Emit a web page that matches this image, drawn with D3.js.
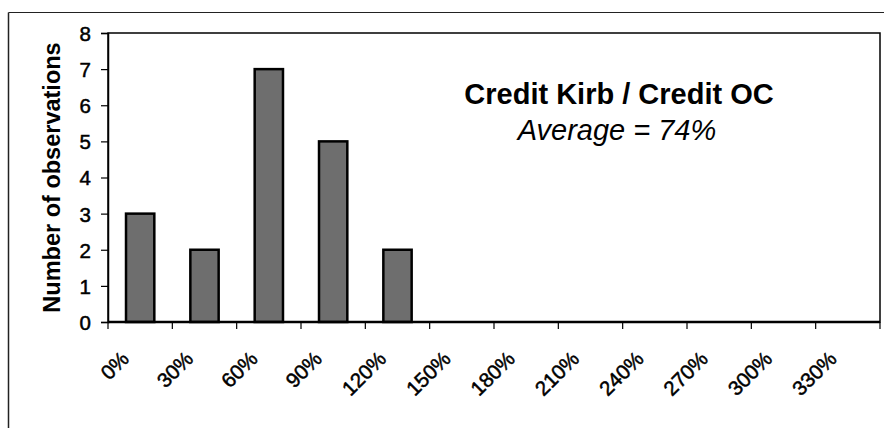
<!DOCTYPE html>
<html>
<head>
<meta charset="utf-8">
<script src="https://cdn.jsdelivr.net/npm/d3@7"></script>
<style>
  html, body { margin: 0; padding: 0; background: #fff; }
  svg { display: block; }
  text { font-family: Arial, "Liberation Sans", sans-serif; fill: #000; }
</style>
</head>
<body>
<svg id="chart" width="884" height="428"></svg>
<script>
const categories = ["0%", "30%", "60%", "90%", "120%", "150%", "180%", "210%", "240%", "270%", "300%", "330%"];
const observations = [3, 2, 7, 5, 2, 0, 0, 0, 0, 0, 0, 0];
const yTicks = [0, 1, 2, 3, 4, 5, 6, 7, 8];
const titleText = "Credit Kirb / Credit OC";
const subtitleText = "Average = 74%";
const yTitle = "Number of observations";

const W = 884, H = 428;
const m = { left: 108, right: 4, top: 33, bottom: 106 };
const svg = d3.select("#chart");

// outer frame (top + left lines)
svg.append("line").attr("x1", 8.5).attr("x2", W).attr("y1", 12.5).attr("y2", 12.5)
  .attr("stroke", "#222").attr("stroke-width", 1);
svg.append("line").attr("x1", 8.5).attr("x2", 8.5).attr("y1", 12.5).attr("y2", H)
  .attr("stroke", "#222").attr("stroke-width", 1.5);

const x = d3.scaleBand().domain(categories).range([m.left, W - m.right]).paddingInner(0).paddingOuter(0);
const y = d3.scaleLinear().domain([0, 8]).range([H - m.bottom, m.top]);

// plot frame
svg.append("rect").attr("x", m.left).attr("y", m.top)
  .attr("width", W - m.right - m.left).attr("height", H - m.bottom - m.top)
  .attr("fill", "none").attr("stroke", "#000").attr("stroke-width", 1.5);

// bars
const bw = x.bandwidth() * 0.44;
svg.append("g").selectAll("rect")
  .data(categories.map((c, i) => ({ c, v: observations[i] })).filter(d => d.v > 0))
  .join("rect")
  .attr("x", d => x(d.c) + x.bandwidth() / 2 - bw / 2)
  .attr("y", d => y(d.v))
  .attr("width", bw)
  .attr("height", d => y(0) - y(d.v))
  .attr("fill", "#6e6e6e")
  .attr("stroke", "#000")
  .attr("stroke-width", 2.5);

// y axis
const yAxis = d3.axisLeft(y).tickValues(yTicks).tickSize(7).tickPadding(10).tickFormat(d3.format("d"));
const gy = svg.append("g").attr("transform", `translate(${m.left},0)`).call(yAxis);
gy.select(".domain").attr("stroke", "#000").attr("stroke-width", 1.5);
gy.selectAll(".tick line").attr("stroke", "#000").attr("stroke-width", 1.2);
gy.selectAll(".tick text").style("font-size", "20.5px").attr("dy", "0.36em")
  .attr("stroke", "#000").attr("stroke-width", 0.5);

// x axis: ticks at band boundaries
const bounds = categories.map(c => x(c)).concat([x.range()[1]]);
const gx = svg.append("g");
gx.append("line").attr("x1", m.left).attr("x2", W - m.right)
  .attr("y1", y(0)).attr("y2", y(0)).attr("stroke", "#000").attr("stroke-width", 2.5);
gx.selectAll("line.tk").data(bounds).join("line").attr("class", "tk")
  .attr("x1", d => d).attr("x2", d => d)
  .attr("y1", y(0)).attr("y2", y(0) + 7)
  .attr("stroke", "#000").attr("stroke-width", 1.2);
gx.selectAll("text").data(categories).join("text")
  .attr("transform", d => `translate(${x(d) + x.bandwidth() / 2 - 10},${y(0) + 38}) rotate(-45)`)
  .attr("text-anchor", "end")
  .style("font-size", "20.5px")
  .attr("stroke", "#000").attr("stroke-width", 0.5)
  .text(d => d);

// y title
svg.append("text")
  .attr("transform", `translate(60,${(m.top + y(0)) / 2}) rotate(-90)`)
  .attr("text-anchor", "middle")
  .style("font-size", "23.5px").style("font-weight", "bold")
  .text(yTitle);

// annotation
svg.append("text").attr("x", 619).attr("y", 104).attr("text-anchor", "middle")
  .style("font-size", "29px").style("font-weight", "bold").text(titleText);
svg.append("text").attr("x", 617).attr("y", 140).attr("text-anchor", "middle")
  .style("font-size", "29px").style("font-style", "italic").text(subtitleText);
</script>
</body>
</html>
